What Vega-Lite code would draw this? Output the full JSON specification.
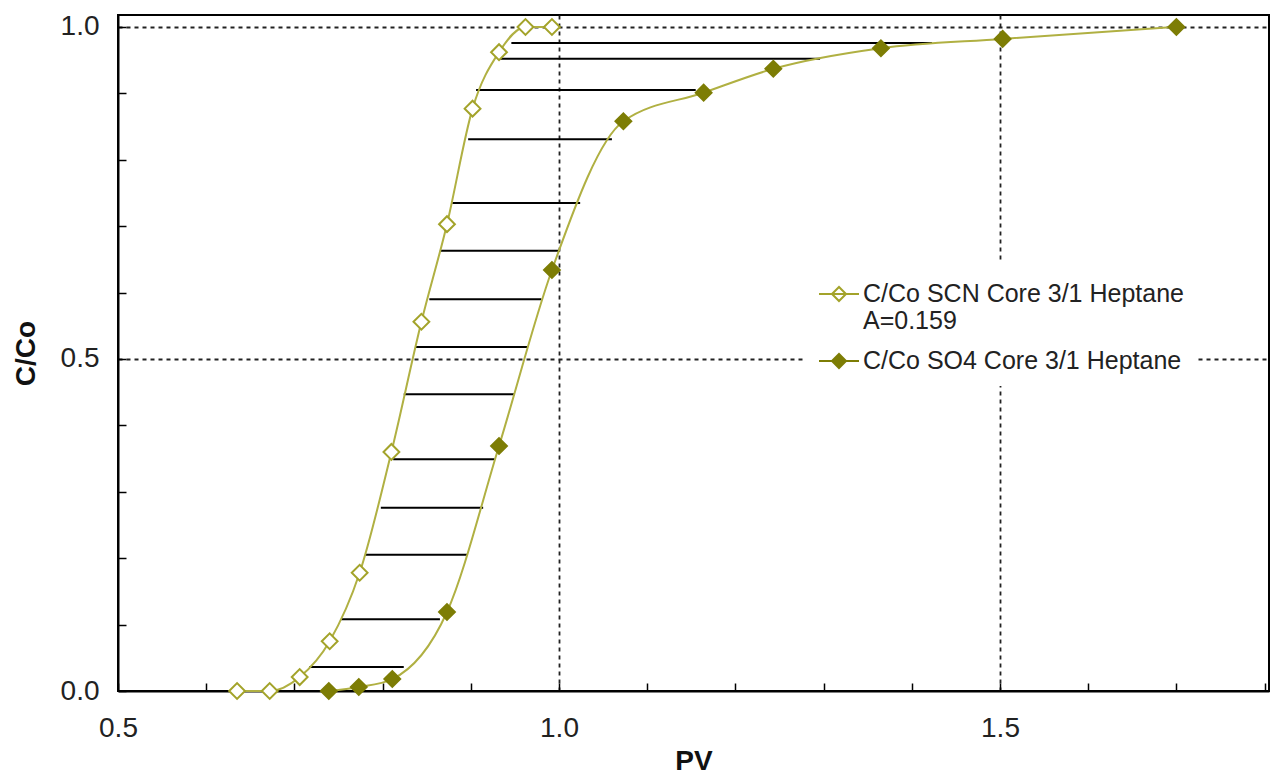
{
  "$schema": "https://vega.github.io/schema/vega-lite/v6.json",
  "width": 1151,
  "height": 676,
  "autosize": {"type": "none"},
  "padding": {"left": 118, "top": 15, "right": 7, "bottom": 85},
  "background": "white",
  "config": {
    "font": "Liberation Sans",
    "view": {"stroke": "black", "strokeWidth": 2},
    "axis": {
      "domainColor": "black", "domainWidth": 2,
      "tickColor": "black", "tickWidth": 1.5,
      "labelFont": "Liberation Sans", "labelFontSize": 28, "labelColor": "#222",
      "labelFlush": false,
      "titleFont": "Liberation Sans", "titleFontSize": 28, "titleFontWeight": "bold", "titleColor": "#111",
      "gridColor": "#222", "gridDash": [4, 4], "gridWidth": 1.8
    }
  },
  "datasets": {
    "pts": [
      {"series": "SCN", "pv": 0.635, "c": 0.0},
      {"series": "SCN", "pv": 0.672, "c": 0.0},
      {"series": "SCN", "pv": 0.706, "c": 0.021},
      {"series": "SCN", "pv": 0.740, "c": 0.075},
      {"series": "SCN", "pv": 0.774, "c": 0.178},
      {"series": "SCN", "pv": 0.810, "c": 0.360},
      {"series": "SCN", "pv": 0.844, "c": 0.556},
      {"series": "SCN", "pv": 0.873, "c": 0.703},
      {"series": "SCN", "pv": 0.902, "c": 0.877},
      {"series": "SCN", "pv": 0.932, "c": 0.962},
      {"series": "SCN", "pv": 0.962, "c": 1.0},
      {"series": "SCN", "pv": 0.992, "c": 1.0},
      {"series": "SO4", "pv": 0.739, "c": 0.0},
      {"series": "SO4", "pv": 0.773, "c": 0.006},
      {"series": "SO4", "pv": 0.811, "c": 0.018},
      {"series": "SO4", "pv": 0.873, "c": 0.119},
      {"series": "SO4", "pv": 0.932, "c": 0.369},
      {"series": "SO4", "pv": 0.992, "c": 0.634},
      {"series": "SO4", "pv": 1.073, "c": 0.858},
      {"series": "SO4", "pv": 1.164, "c": 0.901},
      {"series": "SO4", "pv": 1.243, "c": 0.937},
      {"series": "SO4", "pv": 1.365, "c": 0.968},
      {"series": "SO4", "pv": 1.503, "c": 0.982},
      {"series": "SO4", "pv": 1.700, "c": 1.0}
    ],
    "hatch": [
      {"y": 0.036, "x1": 0.717, "x2": 0.824},
      {"y": 0.108, "x1": 0.753, "x2": 0.865},
      {"y": 0.205, "x1": 0.780, "x2": 0.896},
      {"y": 0.276, "x1": 0.798, "x2": 0.914},
      {"y": 0.349, "x1": 0.812, "x2": 0.927},
      {"y": 0.447, "x1": 0.824, "x2": 0.950},
      {"y": 0.518, "x1": 0.837, "x2": 0.964},
      {"y": 0.590, "x1": 0.853, "x2": 0.980},
      {"y": 0.663, "x1": 0.865, "x2": 1.001},
      {"y": 0.735, "x1": 0.879, "x2": 1.024},
      {"y": 0.831, "x1": 0.897, "x2": 1.060},
      {"y": 0.905, "x1": 0.906, "x2": 1.155},
      {"y": 0.952, "x1": 0.933, "x2": 1.296},
      {"y": 0.976, "x1": 0.946, "x2": 1.423}
    ]
  },
  "layer": [
    {
      "data": {"name": "hatch"},
      "mark": {"type": "rule", "color": "black", "strokeWidth": 2},
      "encoding": {
        "x": {
          "field": "x1", "type": "quantitative",
          "scale": {"domain": [0.5, 1.805], "nice": false, "zero": false},
          "axis": {
            "title": "PV",
            "values": [0.5, 0.6, 0.7, 0.8, 0.9, 1.0, 1.1, 1.2, 1.3, 1.4, 1.5, 1.6, 1.7, 1.8],
            "labelExpr": "abs(datum.value*2 - round(datum.value*2)) < 0.000001 ? format(datum.value, '.1f') : ''",
            "tickSize": -8,
            "labelPadding": 31,
            "titlePadding": 5,
            "grid": true,
            "gridOpacity": {"condition": {"test": "abs(datum.value - 1) < 0.000001 || abs(datum.value - 1.5) < 0.000001", "value": 1}, "value": 0}
          }
        },
        "x2": {"field": "x2"},
        "y": {
          "field": "y", "type": "quantitative",
          "scale": {"domain": [0, 1.018], "nice": false, "zero": false},
          "axis": {
            "title": "C/Co",
            "values": [0, 0.1, 0.2, 0.3, 0.4, 0.5, 0.6, 0.7, 0.8, 0.9, 1.0],
            "labelExpr": "abs(datum.value*2 - round(datum.value*2)) < 0.000001 ? format(datum.value, '.1f') : ''",
            "tickSize": -8,
            "labelPadding": 27,
            "titlePadding": 20,
            "grid": true,
            "gridOpacity": {"condition": {"test": "abs(datum.value - 0.5) < 0.000001 || abs(datum.value - 1) < 0.000001", "value": 1}, "value": 0}
          }
        }
      }
    },
    {
      "data": {"name": "pts"},
      "mark": {"type": "line", "interpolate": "monotone", "color": "#b0b042", "strokeWidth": 2},
      "encoding": {
        "x": {"field": "pv", "type": "quantitative"},
        "y": {"field": "c", "type": "quantitative"},
        "detail": {"field": "series"}
      }
    },
    {
      "data": {"name": "pts"},
      "mark": {"type": "point", "shape": "diamond", "size": 250, "strokeWidth": 2, "opacity": 1},
      "encoding": {
        "x": {"field": "pv", "type": "quantitative"},
        "y": {"field": "c", "type": "quantitative"},
        "fill": {
          "field": "series", "type": "nominal",
          "scale": {"domain": ["SCN", "SO4"], "range": ["white", "#7d7d05"]},
          "legend": {
            "title": null,
            "orient": "none",
            "legendX": 688,
            "legendY": 246,
            "padding": 12,
            "fillColor": "white",
            "symbolType": "M-1,0H1M-0.35,0L0,-0.35L0.35,0L0,0.35Z",
            "symbolSize": 1600,
            "symbolStrokeWidth": 2,
            "labelFont": "Liberation Sans",
            "labelFontSize": 25,
            "labelColor": "#222",
            "labelLimit": 0,
            "labelOffset": 3,
            "rowPadding": 6,
            "labelExpr": "datum.label == 'SCN' ? ['C/Co SCN Core 3/1 Heptane', 'A=0.159'] : 'C/Co SO4 Core 3/1 Heptane'"
          }
        },
        "stroke": {
          "field": "series", "type": "nominal",
          "scale": {"domain": ["SCN", "SO4"], "range": ["#a3a32a", "#7d7d05"]},
          "legend": null
        }
      }
    }
  ]
}
